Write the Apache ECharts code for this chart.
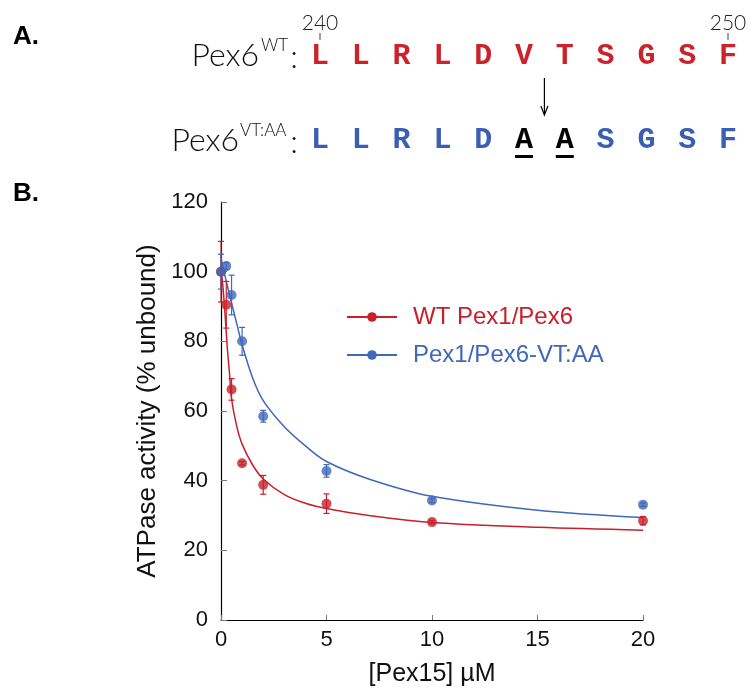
<!DOCTYPE html>
<html>
<head>
<meta charset="utf-8">
<script src="https://cdn.jsdelivr.net/npm/echarts@6/dist/echarts.min.js"></script>
<style>
  html, body { margin: 0; padding: 0; background: #fff; }
  #chart { width: 749px; height: 692px; }
</style>
</head>
<body>
<div id="chart"></div>
<script>
// data
const conc = [0, 0.25, 0.5, 1, 2, 5, 10, 20];
const wtMean = [100, 90.5, 66.2, 45, 38.8, 33.4, 28.1, 28.5];
const wtErr = [8.7, 6.7, 3.1, 0.5, 2.7, 2.8, 0.5, 1.2];
const vtMean = [100, 101.6, 93.3, 80, 58.5, 42.8, 34.3, 33.1];
const vtErr = [5, 1, 5.7, 4, 1.7, 1.8, 0.6, 0.5];

// fitted curves
const fitConc = [0, 0.1, 0.2, 0.3, 0.4, 0.5, 0.75, 1, 1.5, 2, 3, 4, 5, 7, 10, 15, 20];
const wtFit = [101, 95, 87, 78, 71, 63.5, 55.5, 50.5, 44.5, 40.5, 36, 33.5, 32, 30, 28, 26.6, 25.8];
const vtFit = [104, 101, 98.5, 96, 93.5, 91, 85, 79, 69.5, 63, 55.5, 50, 45.5, 40.5, 35.5, 31.5, 29.4];

const xTicks = [0, 5, 10, 15, 20];
const yTicks = [0, 20, 40, 60, 80, 100, 120];

const seriesNames = ['WT Pex1/Pex6', 'Pex1/Pex6-VT:AA'];

// panel A sequences
const wtSeq = ['L', 'L', 'R', 'L', 'D', 'V', 'T', 'S', 'G', 'S', 'F'];
const mutSeq = ['L', 'L', 'R', 'L', 'D', 'A', 'A', 'S', 'G', 'S', 'F'];
const mutated = [5, 6];
const residueMarks = [{ idx: 0, label: '240' }, { idx: 10, label: '250' }];

const RED = '#C8202A';
const BLUE = '#4068B8';
const RED_SEQ = '#CC2229';
const BLUE_SEQ = '#3A5EB3';
const THIN = 'Lato, "Open Sans", "Noto Sans", sans-serif';

function pairs(xs, ys) {
    return xs.map((x, i) => [x, ys[i]]);
}

function errData(xs, m, e) {
    return xs.map((x, i) => [x, m[i] - e[i], m[i] + e[i]]);
}

function errorSeries(data, color) {
    return {
        type: 'custom',
        silent: true,
        z: 3,
        data: data,
        renderItem: (params, api) => {
            const lo = api.coord([api.value(0), api.value(1)]);
            const hi = api.coord([api.value(0), api.value(2)]);
            const w = 3;
            const style = { stroke: color, lineWidth: 1.2 };
            return {
                type: 'group',
                children: [
                    { type: 'line', shape: { x1: lo[0], y1: lo[1], x2: hi[0], y2: hi[1] }, style: style },
                    { type: 'line', shape: { x1: lo[0] - w, y1: lo[1], x2: lo[0] + w, y2: lo[1] }, style: style },
                    { type: 'line', shape: { x1: hi[0] - w, y1: hi[1], x2: hi[0] + w, y2: hi[1] }, style: style }
                ]
            };
        }
    };
}

// panel A drawn as graphic elements
function panelA() {
    const els = [];
    const x0 = 320, step = 40.8;
    const seqFont = 'bold 30px "Liberation Mono", "DejaVu Sans Mono", monospace';
    const txt = (x, y, text, font, fill, align) => ({
        type: 'text', x: x, y: y,
        style: { text: text, font: font, fill: fill, align: align || 'center', verticalAlign: 'middle' }
    });
    els.push({ type: 'text', left: 13, top: 24, style: { text: 'A.', font: 'bold 26px "Liberation Sans", Arial, sans-serif', fill: '#000' } });
    els.push({ type: 'text', left: 13, top: 181, style: { text: 'B.', font: 'bold 26px "Liberation Sans", Arial, sans-serif', fill: '#000' } });

    residueMarks.forEach(r => {
        const x = x0 + step * r.idx;
        els.push(txt(x, 23, r.label, '300 21px ' + THIN, '#222'));
        els.push({ type: 'line', shape: { x1: x, y1: 33, x2: x, y2: 40 }, style: { stroke: '#444', lineWidth: 1 } });
    });

    // row labels
    els.push(txt(259, 56, 'Pex6', '300 32px ' + THIN, '#111', 'right'));
    els.push(txt(261, 46, 'WT', '300 17px ' + THIN, '#111', 'left'));
    els.push(txt(294, 58, ':', '300 32px ' + THIN, '#111'));
    els.push(txt(239, 141, 'Pex6', '300 32px ' + THIN, '#111', 'right'));
    els.push(txt(240, 131, 'VT:AA', '300 17px ' + THIN, '#111', 'left'));
    els.push(txt(294, 143, ':', '300 32px ' + THIN, '#111'));

    wtSeq.forEach((c, i) => {
        els.push(txt(x0 + step * i, 56, c, seqFont, RED_SEQ));
    });
    mutSeq.forEach((c, i) => {
        const isMut = mutated.indexOf(i) >= 0;
        const x = x0 + step * i;
        els.push(txt(x, 140, c, seqFont, isMut ? '#000' : BLUE_SEQ));
        if (isMut) {
            els.push({ type: 'rect', shape: { x: x - 9, y: 155, width: 18, height: 3 }, style: { fill: '#000' } });
        }
    });

    // arrow V/T -> A/A
    const ax = x0 + step * 5.5;
    els.push({ type: 'line', shape: { x1: ax, y1: 78, x2: ax, y2: 114 }, style: { stroke: '#000', lineWidth: 1.2 } });
    els.push({ type: 'polyline', shape: { points: [[ax - 3.5, 106], [ax, 115], [ax + 3.5, 106]] }, style: { stroke: '#000', lineWidth: 1.2, fill: null } });
    return els;
}

const chart = echarts.init(document.getElementById('chart'), null, { renderer: 'canvas' });
chart.setOption({
    backgroundColor: '#fff',
    animation: false,
    textStyle: { fontFamily: '"Liberation Sans", Arial, sans-serif' },
    grid: { left: 221, right: 106, top: 202, bottom: 68 },
    legend: {
        data: [
            { name: seriesNames[0], textStyle: { color: RED } },
            { name: seriesNames[1], textStyle: { color: BLUE } }
        ],
        orient: 'vertical',
        left: 346,
        top: 305,
        padding: 0,
        itemWidth: 50,
        itemHeight: 12,
        itemGap: 14,
        textStyle: { fontSize: 24, padding: [0, 0, 0, 11], fontFamily: '"Liberation Sans", Arial, sans-serif' }
    },
    xAxis: {
        type: 'value',
        min: xTicks[0],
        max: xTicks[xTicks.length - 1],
        interval: xTicks[1] - xTicks[0],
        name: '[Pex15] µM',
        nameLocation: 'middle',
        nameGap: 42,
        nameTextStyle: { fontSize: 25, color: '#111' },
        axisLine: { lineStyle: { color: '#000', width: 1.2 } },
        axisTick: { inside: true, length: 5, lineStyle: { color: '#777' } },
        axisLabel: { fontSize: 22, color: '#111', margin: 9 },
        splitLine: { show: false }
    },
    yAxis: {
        type: 'value',
        min: yTicks[0],
        max: yTicks[yTicks.length - 1],
        interval: yTicks[1] - yTicks[0],
        name: 'ATPase activity (% unbound)',
        nameLocation: 'middle',
        nameGap: 51,
        nameTextStyle: { fontSize: 26, color: '#111' },
        axisLine: { show: true, lineStyle: { color: '#000', width: 1.2 } },
        axisTick: { show: true, inside: true, length: 6, lineStyle: { color: '#777' } },
        axisLabel: { fontSize: 22, color: '#111', margin: 13 },
        splitLine: { show: false }
    },
    graphic: panelA(),
    series: [
        {
            name: seriesNames[0],
            type: 'line',
            data: pairs(fitConc, wtFit),
            smooth: 0.35,
            showSymbol: false,
            symbol: 'circle',
            color: RED,
            lineStyle: { color: RED, width: 1.5 },
            z: 2
        },
        {
            name: seriesNames[1],
            type: 'line',
            data: pairs(fitConc, vtFit),
            smooth: 0.35,
            showSymbol: false,
            symbol: 'circle',
            color: BLUE,
            lineStyle: { color: BLUE, width: 1.5 },
            z: 2
        },
        errorSeries(errData(conc, wtMean, wtErr), RED),
        errorSeries(errData(conc, vtMean, vtErr), BLUE),
        {
            type: 'scatter',
            data: pairs(conc, wtMean),
            symbolSize: 10,
            itemStyle: { color: RED },
            z: 4
        },
        {
            type: 'scatter',
            data: pairs(conc, vtMean),
            symbolSize: 10,
            itemStyle: { color: BLUE },
            z: 5
        }
    ]
});
</script>
</body>
</html>
